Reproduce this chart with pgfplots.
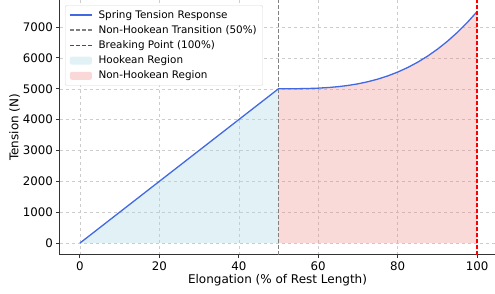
\documentclass[border=0pt]{standalone}
\usepackage{fontspec}
\setmainfont{DejaVu Sans}
\usepackage{pgfplots}
\pgfplotsset{compat=1.18}
\definecolor{royal}{HTML}{4169E1}
\definecolor{lblue}{HTML}{ADD8E6}
\definecolor{lcoral}{HTML}{F08080}
\definecolor{vred}{HTML}{FF0000}
\definecolor{vgray}{HTML}{808080}
\definecolor{gridc}{HTML}{CCCCCC}
\pgfplotsset{
  linelegend/.style={legend image code/.code={\draw[##1] (0pt,0pt) -- (22pt,0pt);}},
  arealegend/.style={legend image code/.code={\fill[draw=none,##1] (0pt,-4pt) rectangle (22pt,4pt);}},
}
\begin{document}
\begin{tikzpicture}
\begin{axis}[
  at={(0,0)}, anchor=south west,
  scale only axis,
  width=435pt, height=254.7pt,
  xmin=-5, xmax=104.5, ymin=-375, ymax=7875,
  axis lines*=left,
  axis line style={-, line width=1pt, black!80},
  tick align=outside,
  major tick length=3.5pt,
  tick style={black!80, line width=0.8pt},
  xtick={0,20,...,100}, ytick={0,1000,...,7000},
  scaled y ticks=false,
  /pgf/number format/1000 sep={},
  /pgf/number format/assume math mode=true,
  ticklabel style={font=\fontsize{11.8}{14}\selectfont},
  label style={font=\fontsize{12}{14}\selectfont},
  xlabel={Elongation (\% of Rest Length)},
  ylabel={Tension (N)},
  xlabel style={yshift=3pt},
  ylabel style={yshift=-4pt},
  grid=major,
  major grid style={dashed, color=gridc, line width=0.5pt},
  legend cell align=left,
  legend style={at={(0.0115,0.98)}, anchor=north west,
    font=\fontsize{10.4}{12.5}\selectfont, draw=gray!30, rounded corners=2pt,
    row sep=1.8pt, inner xsep=4pt, inner ysep=3pt,
    /tikz/every odd column/.append style={column sep=4pt}},
]
\addplot[fill=lblue, fill opacity=0.35, draw=none, forget plot]
  coordinates {(0,0) (50,5000) (50,0)} -- cycle;
\addplot[fill=lcoral, fill opacity=0.3, draw=none, forget plot]
  coordinates {(50,0) (50,5000) (52.5,5000.3) (55,5002.5) (57.5,5008.4) (60,5020)
  (62.5,5039.1) (65,5067.5) (67.5,5107.2) (70,5160) (72.5,5227.8) (75,5312.5)
  (77.5,5415.9) (80,5540) (82.5,5686.6) (85,5857.5) (87.5,6054.7) (90,6280)
  (92.5,6535.3) (95,6822.5) (97.5,7143.4) (100,7500) (100,0)} -- cycle;
\addplot[color=royal, line width=1.3pt, linelegend]
  coordinates {(0,0) (50,5000) (52.5,5000.3) (55,5002.5) (57.5,5008.4) (60,5020)
  (62.5,5039.1) (65,5067.5) (67.5,5107.2) (70,5160) (72.5,5227.8) (75,5312.5)
  (77.5,5415.9) (80,5540) (82.5,5686.6) (85,5857.5) (87.5,6054.7) (90,6280)
  (92.5,6535.3) (95,6822.5) (97.5,7143.4) (100,7500)};
\addlegendentry{Spring Tension Response}
\addplot[color=vgray, dash pattern=on 4pt off 2pt, line width=1.4pt, linelegend] coordinates {(50,-375) (50,7875)};
\addlegendentry{Non-Hookean Transition (50\%)}
\addplot[color=vred, dash pattern=on 4pt off 2pt, line width=1.4pt, linelegend] coordinates {(100,-375) (100,7875)};
\addlegendentry{Breaking Point (100\%)}
\addlegendimage{arealegend, fill=lblue, fill opacity=0.35}
\addlegendentry{Hookean Region}
\addlegendimage{arealegend, fill=lcoral, fill opacity=0.3}
\addlegendentry{Non-Hookean Region}
\end{axis}
\pgfresetboundingbox
\path (-60pt,-39.3pt) rectangle (435pt,254.7pt);
\end{tikzpicture}
\end{document}
